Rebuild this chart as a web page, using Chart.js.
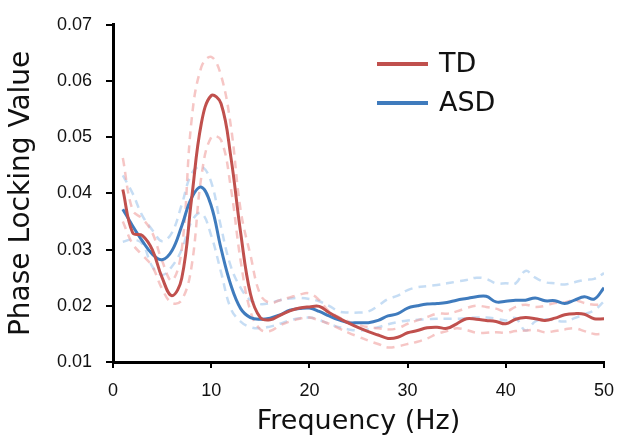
<!DOCTYPE html>
<html>
<head>
<meta charset="utf-8">
<script src="https://cdn.jsdelivr.net/npm/chart.js@4"></script>
<style>
  body { margin: 0; background: #fff; }
  canvas { display: block; }
</style>
</head>
<body>
<canvas id="plv" width="619" height="438"></canvas>
<script>
// frequency (Hz), one point per Hz
const freqs = [1,2,3,4,5,6,7,8,9,10,11,12,13,14,15,16,17,18,19,20,21,22,23,24,25,
  26,27,28,29,30,31,32,33,34,35,36,37,38,39,40,41,42,43,44,45,46,47,48,49,50]

const tdMean = [0.0407,0.0330,0.0325,0.0300,0.0250,0.0218,0.0249,0.0390,0.0525,0.0574,
  0.0560,0.0465,0.0330,0.0221,0.0179,0.0175,0.0183,0.0191,0.0196,0.0198,
  0.0199,0.0188,0.0178,0.0169,0.0161,0.0154,0.0148,0.0142,0.0144,0.0152,
  0.0156,0.0161,0.0162,0.0160,0.0168,0.0177,0.0176,0.0174,0.0172,0.0168,
  0.0176,0.0179,0.0177,0.0174,0.0178,0.0184,0.0186,0.0185,0.0177,0.0177]
const tdUpper = [0.0463,0.0370,0.0355,0.0330,0.0280,0.0245,0.0300,0.0530,0.0625,0.0643,
  0.0610,0.0520,0.0370,0.0290,0.0220,0.0205,0.0210,0.0215,0.0220,0.0222,
  0.0210,0.0190,0.0180,0.0172,0.0166,0.0162,0.0160,0.0158,0.0160,0.0168,
  0.0174,0.0180,0.0186,0.0186,0.0190,0.0196,0.0200,0.0198,0.0195,0.0190,
  0.0198,0.0202,0.0198,0.0200,0.0205,0.0206,0.0210,0.0205,0.0202,0.0202]
const tdLower = [0.0350,0.0310,0.0290,0.0270,0.0230,0.0205,0.0210,0.0270,0.0430,0.0500,
  0.0495,0.0410,0.0280,0.0190,0.0158,0.0155,0.0165,0.0172,0.0177,0.0179,
  0.0174,0.0168,0.0160,0.0152,0.0145,0.0138,0.0132,0.0126,0.0128,0.0132,
  0.0136,0.0142,0.0150,0.0155,0.0160,0.0157,0.0152,0.0152,0.0153,0.0152,
  0.0155,0.0156,0.0157,0.0153,0.0155,0.0158,0.0160,0.0155,0.0150,0.0150]

const asdMean = [0.0372,0.0342,0.0315,0.0292,0.0282,0.0298,0.0342,0.0392,0.0411,0.0378,
  0.0302,0.0237,0.0195,0.0179,0.0176,0.0178,0.0184,0.0192,0.0195,0.0196,
  0.0190,0.0182,0.0175,0.0170,0.0170,0.0170,0.0174,0.0182,0.0186,0.0196,
  0.0200,0.0203,0.0204,0.0206,0.0210,0.0213,0.0216,0.0217,0.0207,0.0208,
  0.0210,0.0210,0.0214,0.0209,0.0209,0.0204,0.0210,0.0216,0.0212,0.0232]
const asdUpper = [0.0432,0.0400,0.0360,0.0335,0.0315,0.0330,0.0380,0.0435,0.0448,0.0420,
  0.0340,0.0270,0.0232,0.0210,0.0203,0.0205,0.0210,0.0213,0.0214,0.0212,
  0.0208,0.0200,0.0190,0.0188,0.0188,0.0190,0.0200,0.0212,0.0218,0.0228,
  0.0233,0.0235,0.0237,0.0240,0.0243,0.0246,0.0250,0.0248,0.0240,0.0240,
  0.0240,0.0262,0.0250,0.0242,0.0240,0.0238,0.0242,0.0246,0.0248,0.0258]
const asdLower = [0.0314,0.0318,0.0310,0.0270,0.0255,0.0270,0.0300,0.0350,0.0365,0.0325,
  0.0260,0.0195,0.0172,0.0162,0.0160,0.0163,0.0168,0.0174,0.0178,0.0179,
  0.0175,0.0168,0.0162,0.0158,0.0156,0.0158,0.0162,0.0167,0.0171,0.0174,
  0.0175,0.0176,0.0177,0.0177,0.0177,0.0178,0.0179,0.0179,0.0177,0.0174,
  0.0178,0.0156,0.0172,0.0176,0.0174,0.0172,0.0178,0.0185,0.0192,0.0208]

const yTicks = [0.01, 0.02, 0.03, 0.04, 0.05, 0.06, 0.07]
const xTicks = [0, 10, 20, 30, 40, 50]

const tdColor = '#c0504d'
const asdColor = '#3f7bbd'
const tdBand = 'rgba(240, 160, 158, 0.6)'
const asdBand = 'rgba(160, 198, 236, 0.6)'

const pts = arr => freqs.map((f, i) => ({ x: f, y: arr[i] }))

const mainLine = (label, arr, color) => ({
    label: label,
    data: pts(arr),
    borderColor: color,
    backgroundColor: color,
    borderWidth: 3,
    pointRadius: 0,
    tension: 0.4
})

const bandLine = (arr, color) => ({
    label: '',
    band: true,
    data: pts(arr),
    borderColor: color,
    borderWidth: 2.5,
    borderDash: [8, 6],
    pointRadius: 0,
    tension: 0.4
})

// legend drawn inside the plot, like the original
const inlineLegend = {
    id: 'inlineLegend',
    afterDraw(chart) {
        const c = chart.ctx
        const mains = chart.data.datasets.filter(d => !d.band)
        c.save()
        mains.forEach((d, i) => {
            const y = 64 + i * 39
            c.strokeStyle = d.borderColor
            c.lineWidth = 4
            c.beginPath()
            c.moveTo(377, y)
            c.lineTo(428, y)
            c.stroke()
            c.fillStyle = '#111'
            c.font = '27px "DejaVu Sans"'
            c.textBaseline = 'middle'
            c.fillText(d.label, 439, y + 1)
        })
        c.restore()
    }
}

const ctx = document.getElementById('plv').getContext('2d')

new Chart(ctx, {
    type: 'line',
    data: {
        datasets: [
            mainLine('TD', tdMean, tdColor),
            mainLine('ASD', asdMean, asdColor),
            bandLine(tdUpper, tdBand),
            bandLine(tdLower, tdBand),
            bandLine(asdUpper, asdBand),
            bandLine(asdLower, asdBand)
        ]
    },
    options: {
        responsive: false,
        animation: false,
        layout: { padding: { top: 20, right: 15, left: 0, bottom: 0 } },
        plugins: { legend: { display: false }, tooltip: { enabled: false } },
        scales: {
            x: {
                type: 'linear',
                min: 0,
                max: 50,
                afterFit: s => {
                    s.height = 76
                    s.paddingRight = 0
                    s.paddingLeft = 0
                },
                afterBuildTicks: s => { s.ticks = xTicks.map(v => ({ value: v })) },
                border: { color: '#000', width: 3 },
                grid: { drawOnChartArea: false, drawTicks: true, tickLength: 6, color: '#000', lineWidth: 2 },
                ticks: { color: '#111', padding: 12, font: { family: 'Liberation Sans', size: 18 } },
                title: {
                    display: true,
                    text: 'Frequency (Hz)',
                    color: '#111',
                    font: { family: 'DejaVu Sans', size: 27, lineHeight: 1.2 },
                    padding: { top: 0, bottom: 0 }
                }
            },
            y: {
                min: 0.01,
                max: 0.07,
                afterFit: s => { s.width = 113 },
                afterBuildTicks: s => { s.ticks = yTicks.map(v => ({ value: v })) },
                border: { color: '#000', width: 3 },
                grid: { drawOnChartArea: false, drawTicks: true, tickLength: 7, color: '#000', lineWidth: 2 },
                ticks: {
                    color: '#111',
                    padding: 14,
                    font: { family: 'Liberation Sans', size: 18 },
                    callback: v => v.toFixed(2)
                },
                title: {
                    display: true,
                    text: 'Phase Locking Value',
                    color: '#111',
                    font: { family: 'DejaVu Sans', size: 28, lineHeight: 1.2 },
                    padding: { top: 5, bottom: 0 }
                }
            }
        }
    },
    plugins: [inlineLegend]
})
</script>
</body>
</html>
